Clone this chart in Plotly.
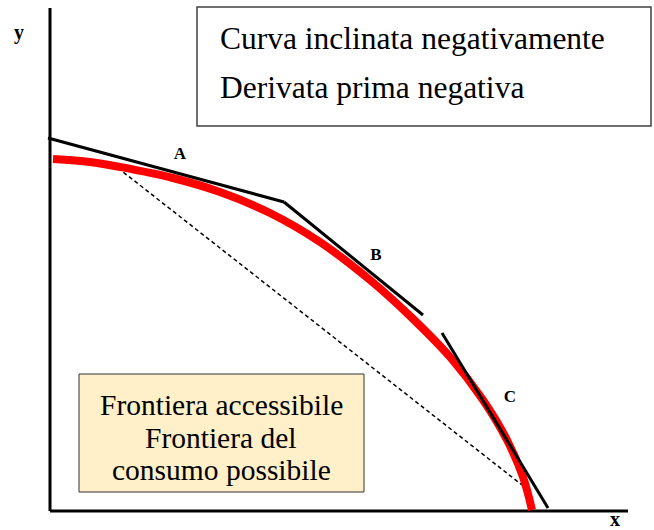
import plotly.graph_objects as go

# ---- data (chart units, origin at the axes' corner) ----
frontier_x = [3, 40, 70, 123, 170, 220, 270, 320, 360, 400, 433, 457, 473, 482]
frontier_y = [352, 349, 344, 333, 319, 298, 269, 231, 195, 154, 111, 71, 34, 1]

tangent_a_x = [-2, 234]
tangent_a_y = [373, 309]
tangent_b_x = [234, 373]
tangent_b_y = [309, 196]
tangent_c_x = [392, 498]
tangent_c_y = [178, 3]

chord_x = [68, 472]
chord_y = [343, 26]

axis_x_x = [0, 578]
axis_x_y = [0, 0]
axis_y_x = [0, 0]
axis_y_y = [0, 503]

point_labels = ["A", "B", "C"]
point_label_x = [130, 326, 460]
point_label_y = [356, 255, 113]

box1_lines = ["Curva inclinata negativamente", "Derivata prima negativa"]
box2_lines = ["Frontiera accessibile", "Frontiera del", "consumo possibile"]

SERIF = "Liberation Serif"

fig = go.Figure()

# axes
fig.add_trace(go.Scatter(x=axis_x_x, y=axis_x_y, mode="lines",
                         line=dict(color="black", width=3), hoverinfo="skip"))
fig.add_trace(go.Scatter(x=axis_y_x, y=axis_y_y, mode="lines",
                         line=dict(color="black", width=3), hoverinfo="skip"))

# dashed chord
fig.add_trace(go.Scatter(x=chord_x, y=chord_y, mode="lines",
                         line=dict(color="black", width=1.5, dash="4px,3px"),
                         hoverinfo="skip"))

# red frontier
fig.add_trace(go.Scatter(x=frontier_x, y=frontier_y, mode="lines",
                         line=dict(color="#FF0000", width=8, shape="spline", smoothing=1.0),
                         hoverinfo="skip"))

# tangents
for tx, ty in [(tangent_a_x, tangent_a_y), (tangent_b_x, tangent_b_y), (tangent_c_x, tangent_c_y)]:
    fig.add_trace(go.Scatter(x=tx, y=ty, mode="lines",
                             line=dict(color="black", width=3), hoverinfo="skip"))

# point labels
fig.add_trace(go.Scatter(x=point_label_x, y=point_label_y, mode="text", text=point_labels,
                         textfont=dict(family=SERIF, size=17, color="black"),
                         texttemplate="<b>%{text}</b>", hoverinfo="skip"))

annotations = [
    dict(x=-31, y=479, text="<b>y</b>", showarrow=False,
         font=dict(family=SERIF, size=20, color="black")),
    dict(x=565, y=-8, text="<b>x</b>", showarrow=False,
         font=dict(family=SERIF, size=20, color="black")),
]
box1_y = [473, 424]
for t, yy in zip(box1_lines, box1_y):
    annotations.append(dict(x=168, y=yy, text=t, showarrow=False, xanchor="left",
                            yanchor="middle", font=dict(family=SERIF, size=31.5, color="black")))
box2_y = [106, 73, 41]
for t, yy in zip(box2_lines, box2_y):
    annotations.append(dict(x=171, y=yy, text=t, showarrow=False, xanchor="center",
                            yanchor="middle", font=dict(family=SERIF, size=29.5, color="black")))

shapes = [
    dict(type="rect", xref="x", yref="y", x0=147, x1=601, y0=385, y1=504,
         line=dict(color="#404040", width=1.5), fillcolor="rgba(0,0,0,0)", layer="above"),
    dict(type="rect", xref="x", yref="y", x0=29, x1=314, y0=19, y1=137,
         line=dict(color="#333333", width=1), fillcolor="#FFF0C9", layer="below"),
]

fig.update_layout(
    width=654, height=530,
    margin=dict(l=0, r=0, t=0, b=0),
    paper_bgcolor="white", plot_bgcolor="white",
    showlegend=False,
    xaxis=dict(range=[-50, 604], visible=False, fixedrange=True),
    yaxis=dict(range=[-19, 511], visible=False, fixedrange=True),
    annotations=annotations,
    shapes=shapes,
)

fig.write_html(
    "out.html",
    config={"displayModeBar": False, "staticPlot": True},
    post_script="document.body.style.margin='0px';document.body.style.overflow='hidden';",
)
